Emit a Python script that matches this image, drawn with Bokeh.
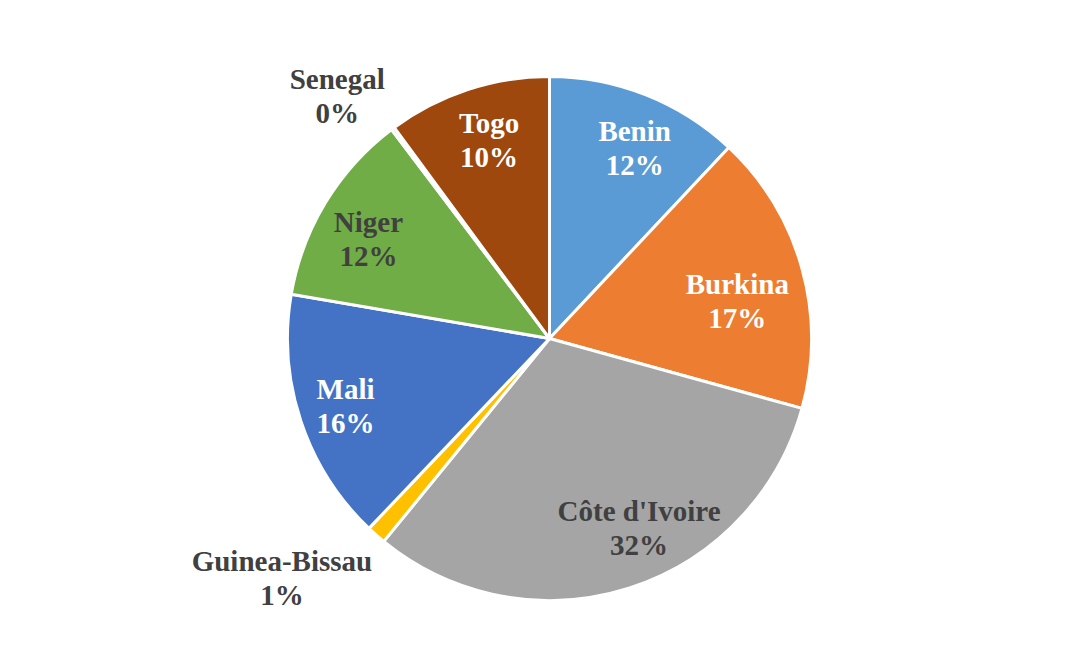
import math
from bokeh.plotting import figure
from bokeh.models import Range1d, ColumnDataSource
from bokeh.core.properties import value
from bokeh.embed import file_html
from bokeh.resources import INLINE

# ---- data ----
countries = ["Benin", "Burkina", "Côte d'Ivoire", "Guinea-Bissau", "Mali", "Niger", "Senegal", "Togo"]
shares = [12.0, 17.3, 31.6, 1.2, 15.6, 12.0, 0.2, 10.1]

# ---- styles / layout ----
colors = ["#5B9BD5", "#ED7D31", "#A5A5A5", "#FFC000", "#4472C4", "#70AD47", "#264478", "#9E480E"]
label_colors = ["white", "white", "#404040", "#404040", "white", "#404040", "#404040", "white"]
# pixel nudges (right, up) from the default label spot at 0.8 R on the mid-angle
nudges = [(8, -4), (-14, -19), (26, 10), (-129, -82), (-5, -1), (-2, -9), (-87, 74), (5, -1)]

W, H = 1074, 653
cx, cy, R = 549, 315, 262
font_px = 29
line_gap = 17

p = figure(width=W, height=H, output_backend="svg", toolbar_location=None,
           x_range=Range1d(0, W), y_range=Range1d(0, H), min_border=0)
p.axis.visible = False
p.grid.visible = False
p.outline_line_color = None
p.background_fill_color = "white"
p.border_fill_color = "white"

total = sum(shares)
starts, ends, mids = [], [], []
cum = 0.0
for v in shares:
    a0 = math.pi / 2 - 2 * math.pi * cum / total
    cum += v
    a1 = math.pi / 2 - 2 * math.pi * cum / total
    starts.append(a0)
    ends.append(a1)
    mids.append((a0 + a1) / 2)

src = ColumnDataSource(dict(x=[cx] * len(shares), y=[cy] * len(shares),
                            start=starts, end=ends, color=colors))
p.wedge(x="x", y="y", radius=R, start_angle="start", end_angle="end",
        direction="clock", fill_color="color", line_color="white", line_width=3, source=src)

lx, ly1, ly2, names, pcts = [], [], [], [], []
for i, (name, v) in enumerate(zip(countries, shares)):
    bx = cx + 0.8 * R * math.cos(mids[i]) + nudges[i][0]
    by = cy + 0.8 * R * math.sin(mids[i]) + nudges[i][1]
    lx.append(bx)
    ly1.append(by + line_gap)
    ly2.append(by - line_gap)
    names.append(name)
    pcts.append(f"{round(100 * v / total)}%")

tsrc = ColumnDataSource(dict(x=lx, y1=ly1, y2=ly2, name=names, pct=pcts, c=label_colors))
for ycol, tcol in (("y1", "name"), ("y2", "pct")):
    p.text(x="x", y=ycol, text=tcol, source=tsrc, text_color="c",
           text_font=value("Liberation Serif"), text_font_style="bold",
           text_font_size=f"{font_px}px", text_align="center", text_baseline="middle")

open("out.html", "w").write(file_html(p, INLINE))
